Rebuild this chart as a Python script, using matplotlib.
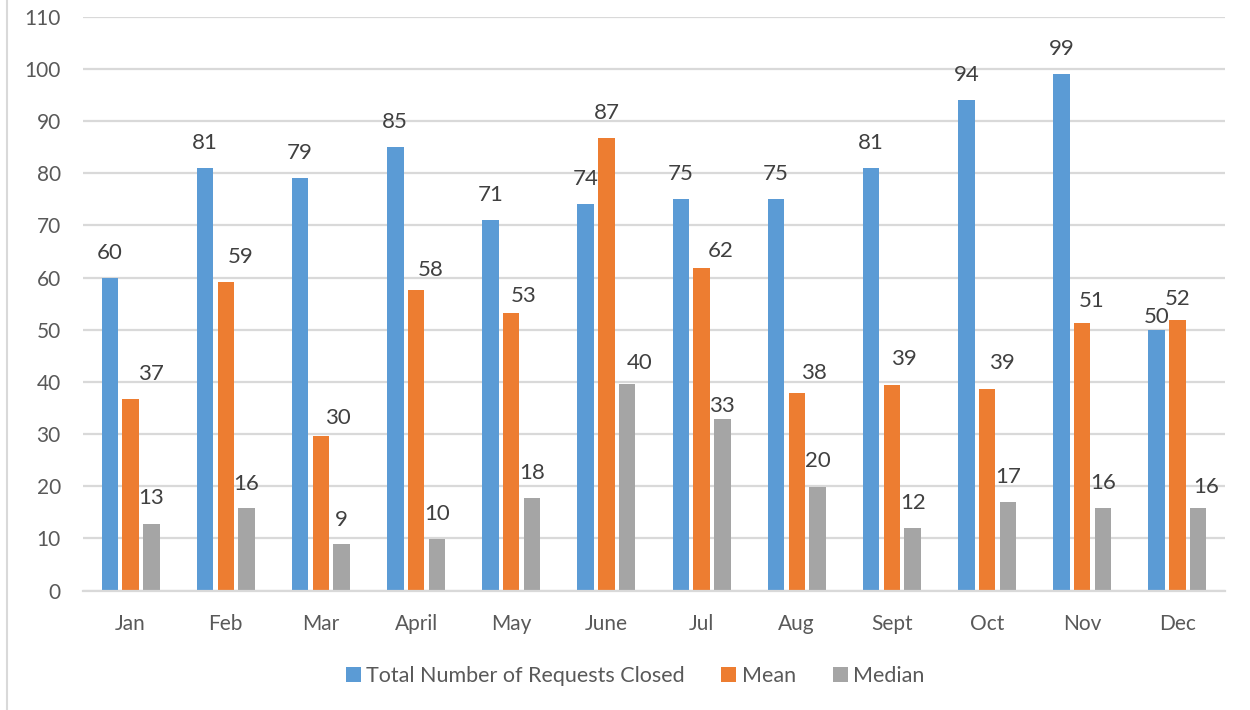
import numpy as np
import matplotlib
matplotlib.use("Agg")
import matplotlib.pyplot as plt
from matplotlib.lines import Line2D

plt.rcParams["font.family"] = ["Lato", "DejaVu Sans"]

months = ["Jan", "Feb", "Mar", "April", "May", "June", "Jul", "Aug", "Sept", "Oct", "Nov", "Dec"]
total_closed = [60, 81, 79, 85, 71, 74, 75, 75, 81, 94, 99, 50]
mean_vals = [36.8, 59.1, 29.6, 57.7, 53.2, 86.8, 61.8, 37.9, 39.3, 38.7, 51.3, 51.9]
median_vals = [12.8, 15.9, 8.9, 9.8, 17.8, 39.6, 32.8, 19.8, 12.0, 17.0, 15.9, 15.9]
series_names = ["Total Number of Requests Closed", "Mean", "Median"]

# label nudges in pixels (dx, dy above bar top), hand-placed like the source
lab_dx = [
    [0] * 12,
    [20, 15, 17, 15, 12, 0, 19, 17, 12, 15, 9, 0],
    [0, 0, 0, 0, 0, 12, 0, 0, 0, 0, 0, 8],
]
lab_dy = [
    [25, 25, 25, 25, 25, 25, 25, 25, 25, 25, 25, 13],
    [25, 25, 18, 20, 17, 25, 17, 20, 26, 26, 22, 21],
    [26, 24, 24, 25, 25, 21, 13, 26, 25, 25, 25, 21],
]

COLORS = ["#5B9BD5", "#ED7D31", "#A5A5A5"]
GRID = "#D9D9D9"
LAB = "#404040"
TICK = "#595959"

fig = plt.figure(figsize=(12.5, 7.1), dpi=100)
ax = fig.add_axes([0.0664, 0.1683, 0.9136, 0.8082])

x = np.arange(len(months))
step, w = 0.2186, 0.173
for i, vals in enumerate([total_closed, mean_vals, median_vals]):
    pos = x + (i - 1) * step
    ax.bar(pos, vals, width=w, color=COLORS[i], label=series_names[i], zorder=2)
    for j, v in enumerate(vals):
        ax.annotate(f"{round(v)}", (pos[j], v), xytext=(lab_dx[i][j], lab_dy[i][j]),
                    textcoords="offset pixels", ha="center", va="center",
                    fontsize=16, color=LAB)

ax.set_xlim(-0.5, 11.5)
ax.set_ylim(0, 110)
ax.set_yticks(range(0, 111, 10))
ax.set_xticks(x)
ax.set_xticklabels(months)
ax.yaxis.grid(True, color=GRID, lw=1.6, zorder=0)
ax.set_axisbelow(True)
for s in ["top", "right", "left"]:
    ax.spines[s].set_visible(False)
ax.spines["bottom"].set_color(GRID)
ax.spines["bottom"].set_linewidth(1.6)
ax.tick_params(axis="both", length=0, labelsize=15, labelcolor=TICK)
ax.tick_params(axis="y", pad=16)
ax.tick_params(axis="x", pad=17)

fig.legend(loc="center", bbox_to_anchor=(635 / 1250, 1 - 676 / 710), ncol=3,
           frameon=False, fontsize=15.5, labelcolor=TICK, handlelength=0.7,
           handleheight=0.7, handletextpad=0.25, columnspacing=1.7)

fig.add_artist(Line2D([7 / 1250, 7 / 1250], [0, 1], color=GRID, lw=1.5))

fig.savefig("out.png", dpi=100)
